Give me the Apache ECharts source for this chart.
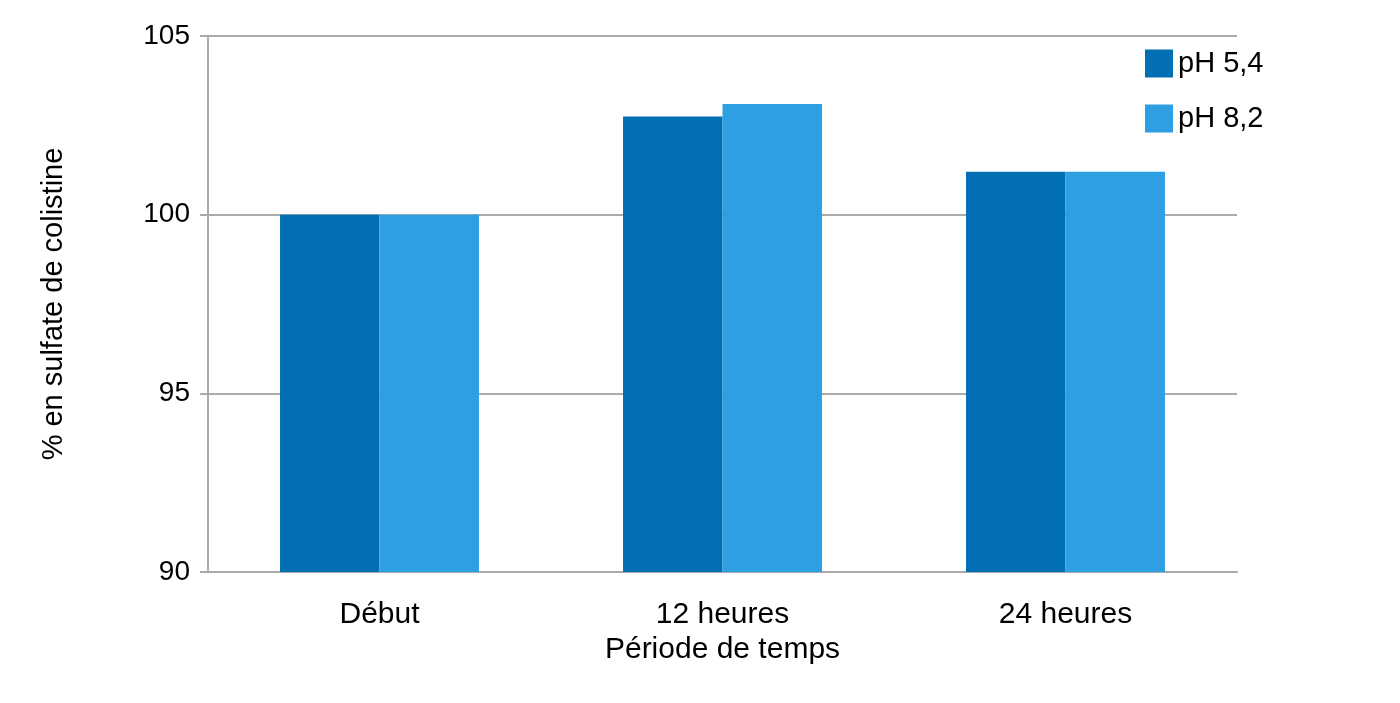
<!DOCTYPE html>
<html><head><meta charset="utf-8">
<script src="https://cdn.jsdelivr.net/npm/echarts@6/dist/echarts.min.js"></script>
<style>html,body{margin:0;padding:0;background:#fff}#c{width:1400px;height:703px}</style>
</head><body><div id="c"></div>
<script>
const categories = ['Début', '12 heures', '24 heures'];
const ph54 = [100, 102.75, 101.2];
const ph82 = [100, 103.1, 101.2];
const seriesNames = ['pH 5,4', 'pH 8,2'];

const chart = echarts.init(document.getElementById('c'));
const font = 'Liberation Sans, Arial, sans-serif';
chart.setOption({
  animation: false,
  textStyle: { fontFamily: font },
  grid: { left: 208, right: 163, top: 36, bottom: 131 },
  legend: {
    orient: 'vertical', left: 1140, top: 44,
    itemWidth: 28, itemHeight: 28, itemGap: 26,
    icon: 'rect',
    textStyle: { fontSize: 29, color: '#000', fontFamily: font }
  },
  xAxis: {
    type: 'category', data: categories,
    name: 'Période de temps', nameLocation: 'middle', nameGap: 58,
    nameTextStyle: { fontSize: 30, color: '#000' },
    axisLine: { lineStyle: { color: '#aaa', width: 2 } },
    axisTick: { show: false },
    axisLabel: { fontSize: 30, color: '#000', margin: 28 }
  },
  yAxis: {
    type: 'value', min: 90, max: 105, interval: 5,
    name: '% en sulfate de colistine', nameLocation: 'middle', nameGap: 140,
    nameTextStyle: { fontSize: 29, color: '#000' },
    axisLine: { show: true, lineStyle: { color: '#aaa', width: 2 } },
    axisTick: { show: true, length: 8, lineStyle: { color: '#aaa', width: 2 } },
    splitLine: { lineStyle: { color: '#aaa', width: 2 } },
    axisLabel: { fontSize: 28, color: '#000', margin: 18 }
  },
  series: [
    { name: seriesNames[0], type: 'bar', data: ph54, barGap: '0%', barCategoryGap: '42%', itemStyle: { color: '#026fb5' } },
    { name: seriesNames[1], type: 'bar', data: ph82, itemStyle: { color: '#2f9fe4' } }
  ]
});
</script></body></html>
